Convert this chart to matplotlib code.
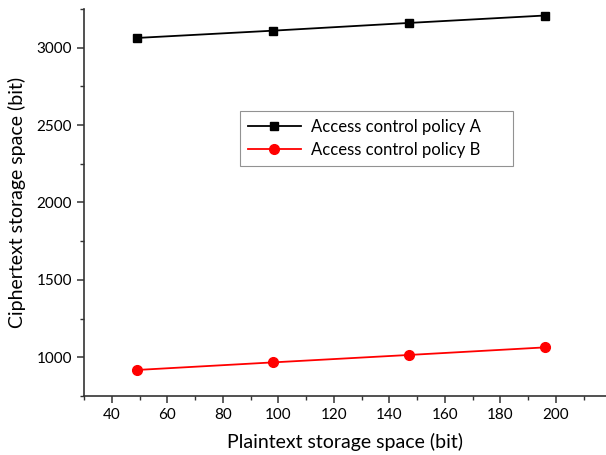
import matplotlib
matplotlib.use("Agg")
import matplotlib.pyplot as plt
from matplotlib.ticker import MultipleLocator

plt.rcParams['font.family'] = ['Lato', 'DejaVu Sans']

x = [49, 98, 147, 196]
policy_a = [3063, 3110, 3160, 3208]
policy_b = [918, 967, 1015, 1064]

fig = plt.figure(figsize=(6.06, 4.55), dpi=100)
ax = fig.add_axes([0.1386, 0.1297, 0.8614, 0.8505])

ax.plot(x, policy_a, color='black', marker='s', markersize=6, linewidth=1.3, label='Access control policy A')
ax.plot(x, policy_b, color='red', marker='o', markersize=7, linewidth=1.3, label='Access control policy B')

ax.set_xlim(30, 218)
ax.set_ylim(750, 3250)
ax.xaxis.set_minor_locator(MultipleLocator(10))
ax.yaxis.set_major_locator(MultipleLocator(500))
ax.yaxis.set_minor_locator(MultipleLocator(250))
ax.set_xticks(range(40, 201, 20))

for s in ['top', 'right']:
    ax.spines[s].set_visible(False)
for s in ['left', 'bottom']:
    ax.spines[s].set_color('#333333')
    ax.spines[s].set_linewidth(1.2)

ax.tick_params(which='major', direction='out', length=5, width=1.1, labelsize=11, color='#333333')
ax.tick_params(which='minor', direction='out', length=3, width=1.0, color='#333333')

ax.set_xlabel('Plaintext storage space (bit)', fontsize=14, labelpad=8)
ax.set_ylabel('Ciphertext storage space (bit)', fontsize=14, labelpad=8)

h = 50 / 387
leg = ax.legend(loc='upper left', bbox_to_anchor=(0.299, 0.736 - h, 0.523, h), mode='expand',
                borderaxespad=0, fontsize=12, frameon=True,
                fancybox=False, edgecolor='#777777', borderpad=0.45, handlelength=3.2,
                labelspacing=0.45, handletextpad=0.6)
leg.get_frame().set_linewidth(0.8)

fig.savefig('out.png', dpi=100)
